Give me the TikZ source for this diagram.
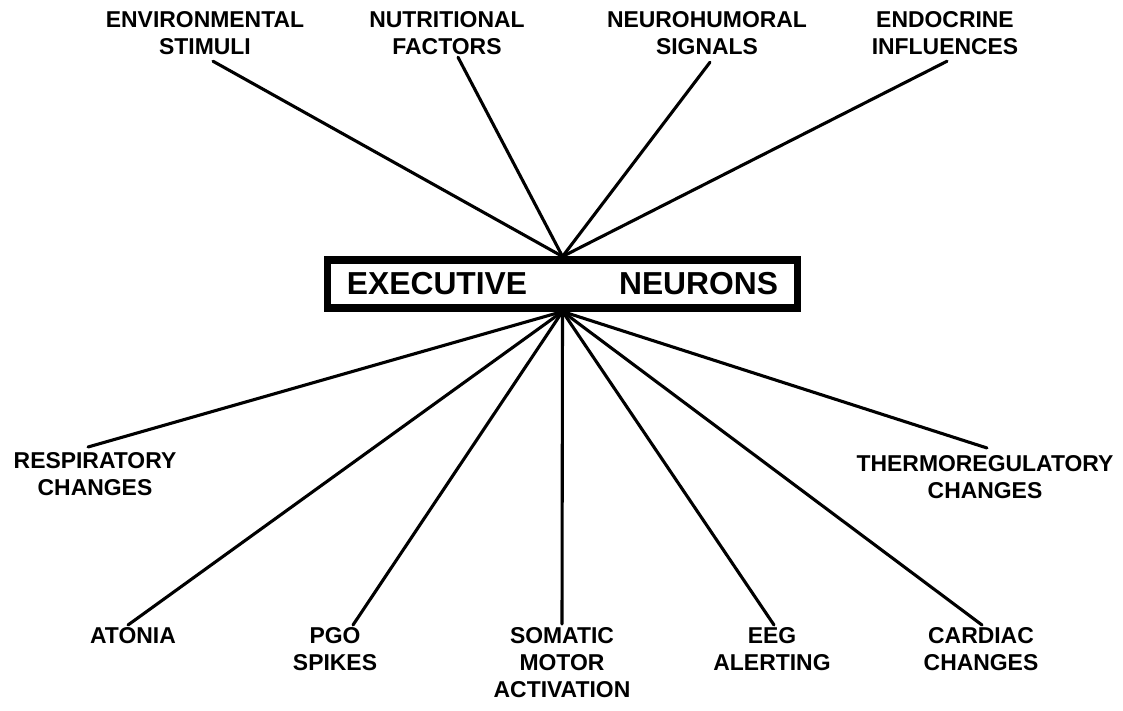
\documentclass[tikz,border=0pt]{standalone}
\usepackage{fontspec}
\setmainfont{Liberation Sans}
\begin{document}
\begin{tikzpicture}[x=0.025cm, y=-0.025cm,
  lbl/.style={anchor=north, inner sep=0pt, outer sep=0pt, align=center,
    font=\fontsize{16.3}{19.2}\selectfont\bfseries},
  conn/.style={line width=2.2pt, line cap=round},
  hub/.style={draw, line width=5pt, rectangle, minimum width=11.725cm,
    minimum height=1.2cm, inner sep=0pt,
    font=\fontsize{22.6}{26}\selectfont\bfseries}]
\useasboundingbox[fill=white] (0,0) rectangle (1123,710);

\node[hub] (exec) at (562.5,284) {EXECUTIVE\hspace{2.3cm}NEURONS};

% inputs
\node[lbl] (env) at (205,11) {ENVIRONMENTAL\\STIMULI};
\node[lbl] (nut) at (447,11) {NUTRITIONAL\\FACTORS};
\node[lbl] (neuro) at (707,11) {NEUROHUMORAL\\SIGNALS};
\node[lbl] (endo) at (945,11) {ENDOCRINE\\INFLUENCES};

% outputs
\node[lbl] (resp) at (95,452) {RESPIRATORY\\CHANGES};
\node[lbl] (thermo) at (985,455) {THERMOREGULATORY\\CHANGES};
\node[lbl] (aton) at (133,627) {ATONIA};
\node[lbl] (pgo) at (335,627) {PGO\\SPIKES};
\node[lbl] (soma) at (562,627) {SOMATIC\\MOTOR\\ACTIVATION};
\node[lbl] (eeg) at (772,627) {EEG\\ALERTING};
\node[lbl] (card) at (981,627) {CARDIAC\\CHANGES};

% input connectors
\draw[conn] ([xshift=0.2cm, yshift=-0.175cm]env.south) -- (exec.north);
\draw[conn] ([xshift=0.275cm, yshift=-0.075cm]nut.south) -- (exec.north);
\draw[conn] ([xshift=0.075cm, yshift=-0.2cm]neuro.south) -- (exec.north);
\draw[conn] ([xshift=0.05cm, yshift=-0.175cm]endo.south) -- (exec.north);

% output connectors
\draw[conn] (exec.south) -- ([xshift=-0.175cm, yshift=0.125cm]resp.north);
\draw[conn] (exec.south) -- ([xshift=0.05cm, yshift=0.175cm]thermo.north);
\draw[conn] (exec.south) -- ([xshift=-0.125cm, yshift=0.05cm]aton.north);
\draw[conn] (exec.south) -- ([xshift=0.45cm, yshift=0.05cm]pgo.north);
\draw[conn] (exec.south) -- ([yshift=0.075cm]soma.north);
\draw[conn] (exec.south) -- ([xshift=0.05cm, yshift=0.05cm]eeg.north);
\draw[conn] (exec.south) -- ([xshift=0.025cm, yshift=0.05cm]card.north);
\end{tikzpicture}
\end{document}
